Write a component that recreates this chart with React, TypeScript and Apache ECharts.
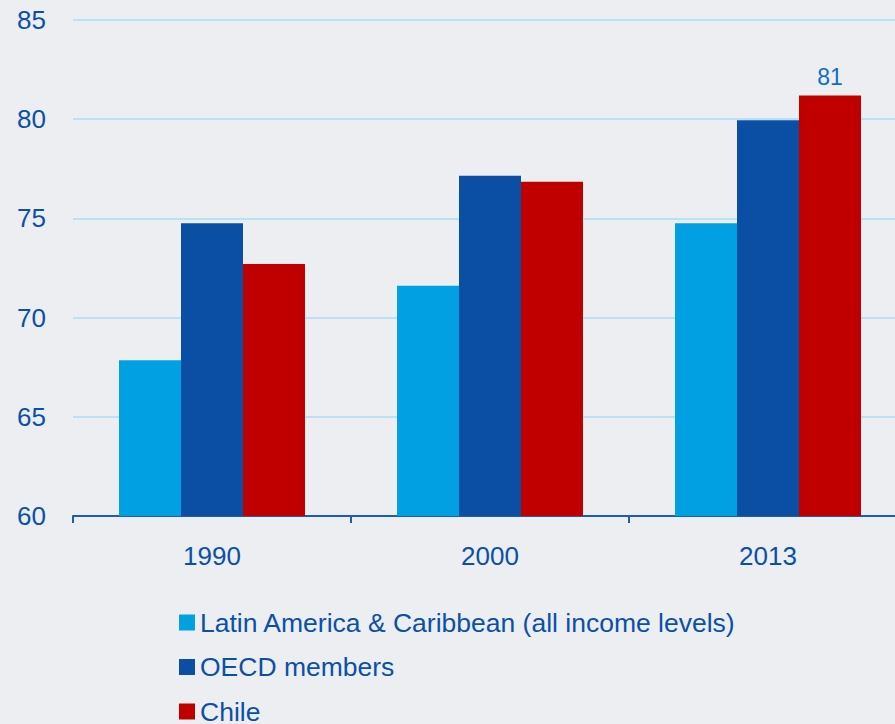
import React, { useEffect, useRef } from "react";
import * as echarts from "echarts";

const categories = ["1990", "2000", "2013"];
const seriesNames = ["Latin America & Caribbean (all income levels)", "OECD members", "Chile"];
const latamValues = [67.85, 71.6, 74.75];
const oecdValues = [74.75, 77.15, 79.95];
const chileValues = [72.7, 76.85, 81.2];
const chileLabels = ["", "", "81"];
const yTicks = { min: 60, max: 85, interval: 5 };

const FONT = "'Liberation Sans', Arial, sans-serif";
const TEXT_BLUE = "#0b50a8";
const CHART_W = 920;
const CHART_H = 780;

export default function App() {
  const ref = useRef<HTMLDivElement>(null);
  useEffect(() => {
    const chart = echarts.init(ref.current!, null, { renderer: "svg" });
    chart.setOption({
      animation: false,
      backgroundColor: "#edeef1",
      textStyle: { fontFamily: FONT },
      grid: { left: 73, right: CHART_W - 907, top: 20, bottom: CHART_H - 516, containLabel: false },
      legend: {
        orient: "vertical",
        left: 174,
        top: 604,
        padding: 5,
        icon: "rect",
        itemWidth: 16,
        itemHeight: 16,
        itemGap: 17.5,
        textStyle: { color: TEXT_BLUE, fontSize: 26.5, fontFamily: FONT },
        data: seriesNames,
      },
      xAxis: {
        type: "category",
        data: categories,
        axisLine: { lineStyle: { color: "#1f5db0", width: 2 } },
        axisTick: { show: true, length: 7, lineStyle: { color: "#1f5db0", width: 2 } },
        axisLabel: { color: TEXT_BLUE, fontSize: 26, margin: 27, fontFamily: FONT },
      },
      yAxis: {
        type: "value",
        min: yTicks.min,
        max: yTicks.max,
        interval: yTicks.interval,
        axisLine: { show: false },
        axisTick: { show: false },
        axisLabel: { color: TEXT_BLUE, fontSize: 26, margin: 27, fontFamily: FONT },
        splitLine: { lineStyle: { color: "#b9e2f6", width: 2 } },
      },
      series: [
        {
          name: seriesNames[0],
          type: "bar",
          data: latamValues,
          barWidth: 62,
          barGap: "0%",
          itemStyle: { color: "#00a0e3" },
        },
        {
          name: seriesNames[1],
          type: "bar",
          data: oecdValues,
          barWidth: 62,
          itemStyle: { color: "#0a4fa3" },
        },
        {
          name: seriesNames[2],
          type: "bar",
          data: chileValues.map((v, i) => ({
            value: v,
            label: {
              show: chileLabels[i] !== "",
              position: "top",
              distance: 7,
              formatter: () => chileLabels[i],
              color: "#1070c0",
              fontSize: 23,
              fontFamily: FONT,
            },
          })),
          barWidth: 62,
          itemStyle: { color: "#c00000" },
        },
      ],
    });
    return () => chart.dispose();
  }, []);
  return (
    <div style={{ position: "fixed", left: 0, top: 0, width: 895, height: 724, overflow: "hidden" }}>
      <div ref={ref} style={{ width: CHART_W, height: CHART_H }} />
    </div>
  );
}
